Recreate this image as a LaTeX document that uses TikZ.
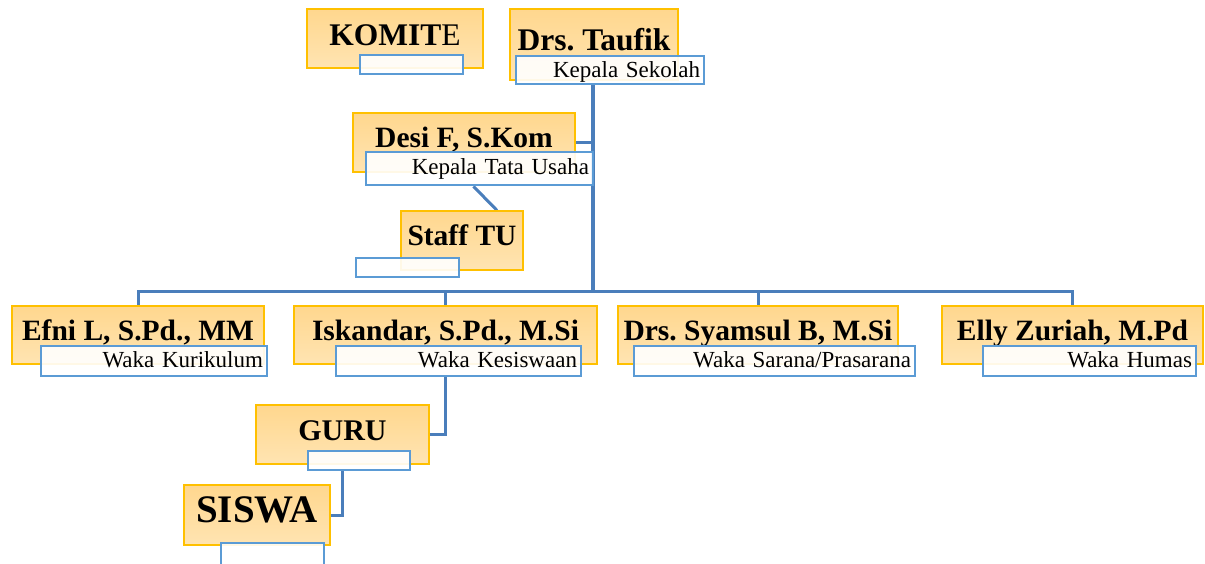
\documentclass[tikz,border=0pt]{standalone}
\usepackage{fontspec}
\setmainfont{Liberation Serif}
\newfontfamily\rolefont[WordSpace=1.6]{Liberation Serif}
\usetikzlibrary{backgrounds}
\definecolor{gold}{HTML}{FFC000}
\definecolor{boxtop}{HTML}{FFD78E}
\definecolor{boxbot}{HTML}{FFE4B2}
\definecolor{bluebox}{HTML}{5B9BD5}
\definecolor{blueline}{HTML}{4A7EBB}
\frenchspacing
\begin{document}
\begin{tikzpicture}[x=1pt, y=-1pt,
    namebox/.style={draw=gold, line width=1.2pt, top color=boxtop, bottom color=boxbot,
        inner xsep=0pt, inner ysep=0pt, anchor=base, text height=34pt, text depth=24pt,
        font=\bfseries\fontsize{29.5}{30}\selectfont},
    rolebox/.style={draw=bluebox, line width=2.8pt, fill=white, fill opacity=0.9, text opacity=1,
        inner xsep=4pt, inner ysep=0pt, align=right, anchor=base, text height=21pt, text depth=9pt,
        font=\rolefont\fontsize{23}{24}\selectfont},
    emptybox/.style={rolebox, anchor=center, text height=0pt, text depth=0pt, minimum height=19pt},
    link/.style={draw=blueline, line width=3pt},
    trunk/.style={draw=blueline, line width=4pt}]
    \useasboundingbox (0,0) rectangle (1205,563);
    % top
    \node[namebox, minimum width=176pt, text height=36pt, text depth=23pt, font=\bfseries\fontsize{31.5}{32}\selectfont] (komite) at (395,45) {KOMIT{\mdseries E}};
    \node[emptybox, minimum width=103pt] (komiterole) at (411.5,64.5) {};
    \node[namebox, minimum width=168pt, text height=41pt, text depth=30pt, font=\bfseries\fontsize{31.5}{32}\selectfont] (taufik) at (594,50) {Drs. Taufik};
    \node[rolebox, text width=180pt, text depth=7pt] (taufikrole) at (610,77) {Kepala Sekolah};
    % tata usaha
    \node[namebox, minimum width=222pt, text depth=25pt] (desi) at (464,147) {Desi F, S.Kom};
    \node[rolebox, text width=219pt, text height=22pt, text depth=11pt] (desirole) at (479.5,174) {Kepala Tata Usaha};
    \node[namebox, minimum width=122pt, text depth=25pt] (staff) at (462,245) {Staff TU};
    \node[emptybox, minimum width=103pt] (staffrole) at (407.5,267.5) {};
    % waka
    \node[namebox, minimum width=252pt] (efni) at (138,340) {Efni L, S.Pd., MM};
    \node[rolebox, text width=218pt] (efnirole) at (154,367) {Waka Kurikulum};
    \node[namebox, minimum width=303pt] (iskandar) at (445.5,340) {Iskandar, S.Pd., M.Si};
    \node[rolebox, text width=237pt] (iskandarrole) at (458.5,367) {Waka Kesiswaan};
    \node[namebox, minimum width=280pt] (syamsul) at (758,340) {Drs. Syamsul B, M.Si};
    \node[rolebox, text width=273pt] (syamsulrole) at (774.5,367) {Waka Sarana/Prasarana};
    \node[namebox, minimum width=261pt] (elly) at (1072.5,340) {Elly Zuriah, M.Pd};
    \node[rolebox, text width=205pt] (ellyrole) at (1089.5,367) {Waka Humas};
    % guru, siswa
    \node[namebox, minimum width=173pt, text height=35pt, font=\bfseries\fontsize{30}{31}\selectfont] (guru) at (342.5,440) {GURU};
    \node[emptybox, minimum width=102pt] (gururole) at (359,460.5) {};
    \node[namebox, minimum width=146pt, text height=37pt, text depth=23pt, font=\bfseries\fontsize{39}{40}\selectfont] (siswa) at (257,522) {SISWA};
    \node[emptybox, minimum width=103pt, minimum height=22pt] (siswarole) at (272.5,554) {};
    % lines
    \coordinate (bus) at (593,291);
    \begin{scope}[on background layer]
    \draw[trunk] (taufikrole.south -| bus) -- (bus);
    \draw[link] (desi.east) -- (desi.east -| bus);
    \draw[link] ([xshift=-6pt]desirole.south) -- ([xshift=35pt]staff.north);
    \draw[link] (efni.north) |- (bus) -| (elly.north);
    \foreach \n in {iskandar, syamsul}
        \draw[link] (\n.north) -- (\n.north |- bus);
    \draw[link] (guru.east) -| (iskandarrole.south -| iskandar.north);
    \draw[link] (siswa.east) -| (gururole.south -| guru.north);
    \end{scope}
\end{tikzpicture}
\end{document}
